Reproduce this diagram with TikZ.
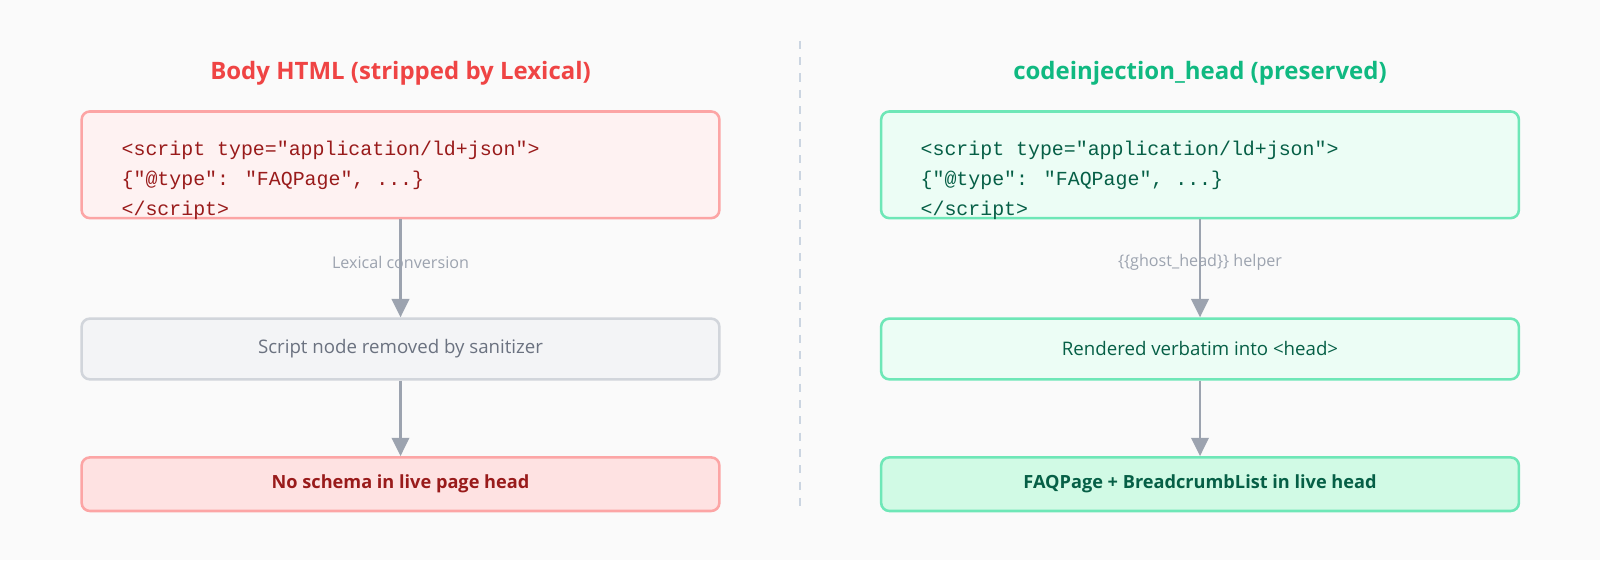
\documentclass[tikz,border=0pt]{standalone}
\usepackage{fontspec}
\setmainfont{Open Sans}
\newfontfamily\codefont{Liberation Mono}
\usetikzlibrary{arrows.meta}
\definecolor{bggray}{HTML}{FAFAFA}
\definecolor{redtitle}{HTML}{EF4444}
\definecolor{redline}{HTML}{FCA5A5}
\definecolor{redfill}{HTML}{FEF2F2}
\definecolor{reddeep}{HTML}{FEE2E2}
\definecolor{redtext}{HTML}{991B1B}
\definecolor{greentitle}{HTML}{10B981}
\definecolor{greenline}{HTML}{6EE7B7}
\definecolor{greenfill}{HTML}{ECFDF5}
\definecolor{greendeep}{HTML}{D1FAE5}
\definecolor{greentext}{HTML}{065F46}
\definecolor{grayline}{HTML}{D1D5DB}
\definecolor{grayfill}{HTML}{F3F4F6}
\definecolor{graytext}{HTML}{6B7280}
\definecolor{arrowgray}{HTML}{9CA3AF}
\definecolor{divgray}{HTML}{CBD5E1}
\begin{document}
\begin{tikzpicture}[x=1pt,y=-1pt,
    box/.style={draw,line width=2.5pt,rounded corners=8pt,minimum width=625pt,inner sep=0pt},
    codeline/.style={anchor=base west,inner sep=0pt,font=\codefont\fontsize{19.5}{20}\selectfont},
    title/.style={font=\bfseries\fontsize{23.5}{28}\selectfont},
    boxtext/.style={font=\fontsize{18.3}{22}\selectfont},
    boldtext/.style={font=\bfseries\fontsize{17.8}{22}\selectfont},
    flow/.style={-{Triangle[length=18pt,width=17pt]},line width=2.5pt,draw=arrowgray},
    flowlabel/.style={text=arrowgray,font=\fontsize{15.8}{19}\selectfont,inner sep=0pt}]
  \fill[bggray] (0,0) rectangle (1568,548.8);
  \useasboundingbox (0,0) rectangle (1568,548.8);
  \draw[divgray,line width=2pt,dash pattern=on 8pt off 8pt] (784,40) -- (784,500);
  \node[title,text=redtitle] (ltitle) at (392.5,71.5) {Body HTML (stripped by Lexical)};
  \node[title,text=greentitle] (rtitle) at (1176,71.5) {codeinjection\_head (preserved)};
  \node[box,draw=redline,fill=redfill,minimum height=104.5pt] (lcode) at (392.5,161.5) {};
  \node[box,draw=greenline,fill=greenfill,minimum height=104.5pt] (rcode) at (1176,161.5) {};
  \foreach \side/\x/\c in {l/119/redtext,r/902/greentext}{
    \node[codeline,text=\c] (\side line1) at (\x,152) {<script type="application/ld+json">};
    \node[codeline,text=\c] (\side line2) at (\x,181.5) {\{"@type": "FAQPage", ...\}};
    \node[codeline,text=\c] (\side line3) at (\x,211) {</script>};
  }
  \node[box,boxtext,draw=grayline,fill=grayfill,minimum height=59.5pt,text=graytext] (lstrip) at (392.5,342) {Script node removed by sanitizer};
  \node[box,boxtext,draw=greenline,fill=greenfill,minimum height=59.5pt,text=greentext] (rrender) at (1176,342) {Rendered verbatim into <head>};
  \node[box,boldtext,draw=redline,fill=reddeep,minimum height=52.5pt,text=redtext] (lresult) at (392.5,474.5) {No schema in live page head};
  \node[box,boldtext,draw=greenline,fill=greendeep,minimum height=52.5pt,text=greentext] (rresult) at (1176,474.5) {FAQPage + BreadcrumbList in live head};
  \node[flowlabel] (llabel) at (392.5,257) {Lexical conversion};
  \node[flowlabel] (rlabel) at (1176,257) {\{\{ghost\_head\}\} helper};
  \draw[flow] (lcode) -- (lstrip);
  \draw[flow] (lstrip) -- (lresult);
  \draw[flow] (rcode) -- (rrender);
  \draw[flow] (rrender) -- (rresult);
\end{tikzpicture}
\end{document}
